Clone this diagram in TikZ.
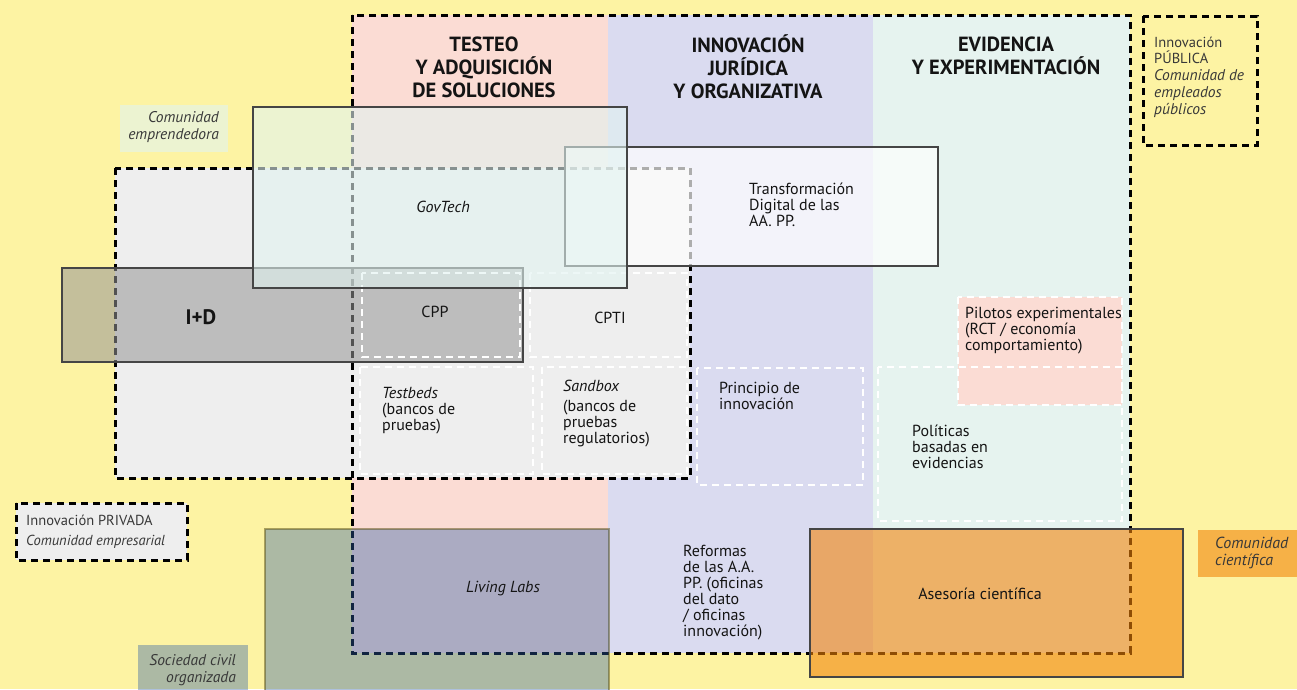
\documentclass[tikz,border=0pt]{standalone}
\usepackage{fontspec}
\setmainfont{PT Sans}
\usepackage{tikz}
\definecolor{fondo}{HTML}{FDF3A3}
\definecolor{rosa}{HTML}{FBDCD4}
\definecolor{lila}{HTML}{DADBF0}
\definecolor{menta}{HTML}{E6F3EF}
\definecolor{gris}{HTML}{EEEEEE}
\definecolor{borde}{HTML}{454545}
\definecolor{verdoso}{RGB}{225,243,240}
\definecolor{azul}{RGB}{46,95,168}
\definecolor{naranja}{RGB}{242,132,8}
\definecolor{oliva}{RGB}{90,80,20}
\definecolor{tinta}{HTML}{141414}
\definecolor{tintaley}{HTML}{383838}
\newcommand{\cuerpo}{\fontsize{16}{16}\selectfont}
\newcommand{\titulo}{\fontsize{20.5}{23}\selectfont\bfseries}
\tikzset{
  marco/.style={draw=black, line width=3pt, dash pattern=on 7pt off 5pt},
  subcaja/.style={draw=white, line width=2.5pt, dash pattern=on 7pt off 5pt},
  solida/.style={draw=borde, line width=2.5pt},
  txt/.style={inner sep=0pt, align=left, anchor=west, font=\cuerpo, text=tinta},
  cab/.style={inner sep=0pt, align=center, font=\titulo, text=tinta},
  ley/.style={inner sep=0pt, font=\fontsize{15.5}{17}\selectfont\itshape, text=tintaley}
}

\begin{document}
\begin{tikzpicture}[x=1pt,y=-1pt]
\useasboundingbox (0,0) rectangle (1297,689);
\clip (0,0) rectangle (1297,689);
\fill[fondo] (0,0) rectangle (1297,689);
% columnas
\fill[rosa] (352,15) rectangle (608,653);
\fill[lila] (608,15) rectangle (873,653);
\fill[menta] (873,15) rectangle (1130,653);
% innovacion privada
\draw[marco, fill=gris] (115,168) rectangle (690,478);
\draw[marco] (352,15) rectangle (1130,653);
\fill[rosa] (958,297) rectangle (1122,405);
% cajas grandes
\draw[solida, fill=white, fill opacity=.68] (565,147) rectangle (938,266);
\draw[solida, fill=black!41, fill opacity=.55] (62,268) rectangle (523,362);
\draw[subcaja] (362,273) rectangle (520,357);
\draw[subcaja] (530,273) rectangle (687,357);
\draw[subcaja] (360,367) rectangle (533,474);
\draw[subcaja] (542,367) rectangle (687,474);
\draw[subcaja] (697,368) rectangle (863,485);
\draw[subcaja] (958,297) rectangle (1122,405);
\draw[subcaja] (878,367) rectangle (1122,521);
\draw[solida, fill=verdoso, fill opacity=.6] (253,107) rectangle (627,288);
\draw[line width=2.5pt, draw=oliva, draw opacity=.5, fill=azul, fill opacity=.39] (265,529) rectangle (609,700);
\draw[solida, fill=naranja, fill opacity=.59] (810,529) rectangle (1183,677);
% leyendas
\fill[verdoso, opacity=.6] (120,105) rectangle (228,152);
\draw[marco, fill=fondo] (1143,16) rectangle (1257,145);
\draw[marco, fill=gris] (16,503) rectangle (187,560);
\fill[naranja, opacity=.59] (1198,530) rectangle (1305,577);
\fill[azul, opacity=.39] (138,645) rectangle (248,700);
% textos
\node[cab] (testeo) at (484,67) {TESTEO\\Y ADQUISICIÓN\\DE SOLUCIONES};
\node[cab] (juridica) at (748,67) {INNOVACIÓN\\JURÍDICA\\Y ORGANIZATIVA};
\node[cab] (evidencia) at (1006,56) {EVIDENCIA\\Y EXPERIMENTACIÓN};
\node[txt, anchor=center, font=\cuerpo\itshape] (govtech) at (443,207) {GovTech};
\node[txt] (transf) at (749,205) {Transformación\\Digital de las\\AA. PP.};
\node[cab, font=\fontsize{21}{22}\selectfont\bfseries] (imasd) at (201,317) {I+D};
\node[txt, anchor=center] (cpp) at (435,312) {CPP};
\node[txt, anchor=center] (cpti) at (610,318) {CPTI};
\node[txt] (testbeds) at (382,411) {\textit{Testbeds}\\(bancos de\\pruebas)};
\node[txt] (sandbox) at (563,414) {\textit{Sandbox}\\[4pt](bancos de\\pruebas\\regulatorios)};
\node[txt] (principio) at (719,396) {Principio de\\innovación};
\node[txt] (pilotos) at (965,331) {Pilotos experimentales\\(RCT / economía\\comportamiento)};
\node[txt] (politicas) at (912,447) {Políticas\\basadas en\\evidencias};
\node[txt] (reformas) at (683,593) {Reformas\\de las A.A.\\PP. (oficinas\\del dato\\/ oficinas\\innovación)};
\node[txt, anchor=center, font=\cuerpo\itshape] (living) at (503,589) {Living Labs};
\node[txt, anchor=center] (asesoria) at (980,594) {Asesoría científica};
\node[ley, align=right, anchor=east] (emprende) at (219,127) {Comunidad\\emprendedora};
\node[ley, align=left, anchor=west, font=\fontsize{14.5}{16.8}\selectfont] (publica) at (1154,77) {Innovación\\PÚBLICA\\\textit{\fontsize{15.5}{16.8}\selectfont Comunidad de}\\\textit{\fontsize{15.5}{16.8}\selectfont empleados}\\\textit{\fontsize{15.5}{16.8}\selectfont públicos}};
\node[ley, align=left, anchor=west, font=\fontsize{14.5}{20}\selectfont] (privada) at (26,532) {Innovación PRIVADA\\\textit{Comunidad empresarial}};
\node[ley, align=left, anchor=west, font=\fontsize{16}{17}\selectfont\itshape] (cientifica) at (1215,553) {Comunidad\\científica};
\node[ley, align=right, anchor=east] (sociedad) at (236,670) {Sociedad civil\\organizada};
\end{tikzpicture}
\end{document}
